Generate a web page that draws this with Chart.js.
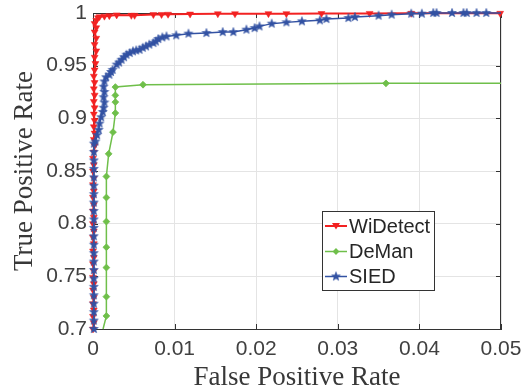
<!DOCTYPE html>
<html>
<head>
<meta charset="utf-8">
<script src="https://cdn.jsdelivr.net/npm/chart.js@4"></script>
<style>
  html, body { margin: 0; padding: 0; background: #fff; }
  #wrap { width: 522px; height: 391px; }
</style>
</head>
<body>
<div id="wrap"><canvas id="c" width="522" height="391"></canvas></div>
<script>
// ---------------- data ----------------
const seriesNames = ['WiDetect', 'DeMan', 'SIED'];
const xTickValues = [0, 0.01, 0.02, 0.03, 0.04, 0.05];
const xTickLabels = ['0', '0.01', '0.02', '0.03', '0.04', '0.05'];
const yTickValues = [0.7, 0.75, 0.8, 0.85, 0.9, 0.95, 1];
const yTickLabels = ['0.7', '0.75', '0.8', '0.85', '0.9', '0.95', '1'];
const xTitle = 'False Positive Rate';
const yTitle = 'True Positive Rate';

const widetectFPR = [0, 0.0001, 0, 0.0001, 0, 0.0001, 0, 0.0001, 0, 0.0001, 0, 0.0001, 0, 0.0001, 0, 0.0001,
  0, 0.0001, 0, 0.0001, 0, 0.0001, 0, 0.0001, 0, 0.0001, 0, 0.0001, 0.0002, 0.0001, 0.0002, 0.0001,
  0.0002, 0.0001, 0.0002, 0.0001, 0.0002, 0.0001, 0.0002, 0.0001, 0.0002, 0.0003, 0.0002, 0.0004, 0.0002, 0.0004,
  0.0002, 0.0004, 0.0002, 0.0004, 0.0006, 0.0008,
  0.0014, 0.0020, 0.0029, 0.0047, 0.0051, 0.0074, 0.0084, 0.0092, 0.0119, 0.0153, 0.0174,
  0.0215, 0.0237, 0.0280, 0.0339, 0.0390, 0.0499];
const widetectTPR = [0.700, 0.706, 0.712, 0.718, 0.724, 0.730, 0.737, 0.743, 0.749, 0.755, 0.762, 0.768, 0.774, 0.781, 0.787, 0.793,
  0.800, 0.806, 0.812, 0.818, 0.825, 0.831, 0.837, 0.843, 0.850, 0.856, 0.862, 0.868, 0.874, 0.880, 0.886, 0.892,
  0.898, 0.904, 0.910, 0.916, 0.922, 0.928, 0.934, 0.940, 0.946, 0.952, 0.958, 0.964, 0.970, 0.976,
  0.982, 0.986, 0.990, 0.993, 0.9955, 0.9965,
  0.9970, 0.9975, 0.9982, 0.9978, 0.9978, 0.9985, 0.9986, 0.9988, 0.9990, 0.9993, 0.9993,
  0.9994, 0.9994, 0.9995, 0.9996, 0.9997, 0.9997];

const demanFPR = [0.00123, 0.00164, 0.00164, 0.00164, 0.00164, 0.00164, 0.00164, 0.00164, 0.00192, 0.00245,
  0.00274, 0.00274, 0.00274, 0.00274, 0.00613, 0.0359, 0.05];
const demanTPR = [0.700, 0.7124, 0.7307, 0.7583, 0.7776, 0.8020, 0.8248, 0.8448, 0.8663, 0.8869,
  0.9050, 0.9154, 0.9218, 0.9297, 0.9319, 0.9332, 0.9332];

const siedFPR = [0.0001, 0.0001, 0.0001, 0.0001, 0.0001, 0.0001, 0.0001, 0.0001, 0.0001, 0.0001, 0.0001, 0.0001,
  0.0001, 0.0001, 0.0001, 0.0001, 0.0001, 0.0001, 0.0001, 0.0001, 0.0001, 0.0001, 0.0001,
  0.0003, 0.0005, 0.0007, 0.0008, 0.0010, 0.0012, 0.0013, 0.0014, 0.0013, 0.0014, 0.0013, 0.0014, 0.0016,
  0.0020, 0.0022, 0.0024, 0.0029, 0.0032, 0.0035, 0.0038, 0.0041, 0.0045, 0.0049, 0.0053, 0.0057, 0.0061,
  0.0065, 0.0069, 0.0074, 0.0077, 0.0080, 0.0085, 0.0090, 0.0102, 0.0117, 0.0139, 0.0159, 0.0172,
  0.0188, 0.0198, 0.0204, 0.0219, 0.0237, 0.0256, 0.0278, 0.0286, 0.0313, 0.0321, 0.0350, 0.0366,
  0.0390, 0.0403, 0.0417, 0.0421, 0.0440, 0.0454, 0.0458, 0.0470, 0.0482, 0.0500];
const siedTPR = [0.700, 0.708, 0.716, 0.724, 0.732, 0.740, 0.748, 0.756, 0.764, 0.772, 0.780, 0.788,
  0.796, 0.804, 0.812, 0.820, 0.828, 0.836, 0.844, 0.852, 0.860, 0.868, 0.876,
  0.878, 0.884, 0.889, 0.895, 0.901, 0.906, 0.910, 0.915, 0.920, 0.925, 0.930, 0.935, 0.939,
  0.9414, 0.944, 0.946, 0.951, 0.953, 0.9556, 0.958, 0.9604, 0.962, 0.9636, 0.9645, 0.9651, 0.967,
  0.9683, 0.970, 0.9715, 0.973, 0.9753, 0.9768, 0.9778, 0.9788, 0.9804, 0.9810, 0.9819, 0.9819,
  0.9842, 0.9857, 0.9873, 0.9899, 0.9911, 0.9921, 0.9930, 0.9943, 0.9952, 0.9962, 0.9975, 0.9984,
  0.9994, 0.9994, 1, 1, 1, 1, 1, 1, 1, 1];

// ---------------- styles ----------------
const RED = '#f22222';
const GREEN = '#6fbf4a';
const BLUE = '#3352a3';

function makeStar(color, r) {
  const s = Math.ceil(r * 2 + 2);
  const cv = document.createElement('canvas');
  cv.width = s; cv.height = s;
  const g = cv.getContext('2d');
  const cx = s / 2, cy = s / 2;
  g.beginPath();
  for (let i = 0; i < 10; i++) {
    const rad = (i % 2 === 0) ? r : r * 0.42;
    const a = -Math.PI / 2 + i * Math.PI / 5;
    const px = cx + rad * Math.cos(a), py = cy + rad * Math.sin(a);
    if (i === 0) g.moveTo(px, py); else g.lineTo(px, py);
  }
  g.closePath();
  g.fillStyle = color;
  g.fill();
  g.strokeStyle = color;
  g.lineWidth = 0.6;
  g.stroke();
  return cv;
}
const starImg = makeStar(BLUE, 4.6);

const zip = (xs, ys) => xs.map((x, i) => ({ x: x, y: ys[i] }));
const clipBox = { left: 8, top: 8, right: 8, bottom: 5 };

const datasets = [
  {
    label: seriesNames[0], data: zip(widetectFPR, widetectTPR),
    borderColor: RED, backgroundColor: RED, borderWidth: 2,
    pointStyle: 'triangle', rotation: 180, pointRadius: 4, pointBorderWidth: 0.5,
    showLine: true, order: 3, clip: clipBox
  },
  {
    label: seriesNames[1], data: zip(demanFPR, demanTPR),
    borderColor: GREEN, backgroundColor: GREEN, borderWidth: 1.5,
    pointStyle: 'rectRot', pointRadius: (c) => (c.dataIndex === 0 || c.dataIndex === demanFPR.length - 1) ? 0 : 3.4,
    pointBorderWidth: 0.8,
    showLine: true, order: 2, clip: clipBox
  },
  {
    label: seriesNames[2], data: zip(siedFPR, siedTPR),
    borderColor: BLUE, backgroundColor: BLUE, borderWidth: 1.5,
    pointStyle: (c) => (c.dataIndex === siedFPR.length - 1) ? false : starImg, pointRadius: 4.5,
    showLine: true, order: 1, clip: clipBox
  }
];

const AXIS = '#333333';
const TICKCOL = '#404040';

const framePlugin = {
  id: 'frame',
  beforeDatasetsDraw(chart) {
    const { ctx, chartArea: a, scales } = chart;
    ctx.save();
    ctx.strokeStyle = AXIS;
    ctx.lineWidth = 1;
    ctx.beginPath();
    ctx.moveTo(a.left, a.top + 0.5); ctx.lineTo(a.right, a.top + 0.5);
    ctx.moveTo(a.right - 0.5, a.top); ctx.lineTo(a.right - 0.5, a.bottom);
    // inward tick marks
    const L = 5;
    xTickValues.forEach(v => {
      const px = Math.round(scales.x.getPixelForValue(v)) + 0.5;
      ctx.moveTo(px, a.bottom); ctx.lineTo(px, a.bottom - L);
      ctx.moveTo(px, a.top); ctx.lineTo(px, a.top + L);
    });
    yTickValues.forEach(v => {
      const py = Math.round(scales.y.getPixelForValue(v)) + 0.5;
      ctx.moveTo(a.left, py); ctx.lineTo(a.left + L, py);
      ctx.moveTo(a.right, py); ctx.lineTo(a.right - L, py);
    });
    ctx.stroke();
    ctx.restore();
  },
  afterDatasetsDraw(chart) {
    const { ctx } = chart;
    const box = { x: 322.5, y: 211.5, w: 112, h: 79 };
    ctx.save();
    ctx.fillStyle = '#ffffff';
    ctx.fillRect(box.x, box.y, box.w, box.h);
    ctx.strokeStyle = '#333333';
    ctx.lineWidth = 1;
    ctx.strokeRect(box.x, box.y, box.w, box.h);
    const rows = [226, 251.5, 276.5];
    const cols = [RED, GREEN, BLUE];
    rows.forEach((ry, i) => {
      ctx.strokeStyle = cols[i];
      ctx.lineWidth = i === 0 ? 2 : 1.5;
      ctx.beginPath();
      ctx.moveTo(325, ry); ctx.lineTo(347, ry);
      ctx.stroke();
      ctx.fillStyle = cols[i];
      if (i === 0) {
        ctx.beginPath();
        ctx.moveTo(332, ry - 3); ctx.lineTo(340, ry - 3); ctx.lineTo(336, ry + 3.5);
        ctx.closePath(); ctx.fill();
      } else if (i === 1) {
        ctx.beginPath();
        ctx.moveTo(336, ry - 3.4); ctx.lineTo(339.4, ry); ctx.lineTo(336, ry + 3.4); ctx.lineTo(332.6, ry);
        ctx.closePath(); ctx.fill();
      } else {
        ctx.drawImage(starImg, 336 - starImg.width / 2, ry - starImg.height / 2);
      }
      ctx.fillStyle = '#262626';
      ctx.font = '20px "Liberation Sans", Arial, sans-serif';
      ctx.textBaseline = 'middle';
      ctx.textAlign = 'left';
      ctx.fillText(seriesNames[i], 349, ry + 1);
    });
    ctx.restore();
  }
};

new Chart(document.getElementById('c'), {
  type: 'scatter',
  data: { datasets: datasets },
  options: {
    responsive: false,
    animation: false,
    events: [],
    layout: { padding: { top: 13, right: 21, left: 0, bottom: 0 } },
    plugins: { legend: { display: false }, tooltip: { enabled: false } },
    scales: {
      x: {
        type: 'linear', min: 0, max: 0.05,
        afterBuildTicks: (s) => { s.ticks = xTickValues.map(v => ({ value: v })); },
        afterFit: (s) => { s.height = 62; s.paddingLeft = 0; s.paddingRight = 0; },
        ticks: {
          callback: (v, i) => xTickLabels[i],
          color: TICKCOL, padding: 8, maxRotation: 0, autoSkip: false,
          font: { family: '"Liberation Sans", Arial, sans-serif', size: 21 }
        },
        grid: { color: '#e4e4e4', lineWidth: 1, drawTicks: false },
        border: { color: AXIS, width: 1 },
        title: {
          display: true, text: xTitle, color: '#383838',
          font: { family: '"Liberation Serif", "Times New Roman", serif', size: 27, lineHeight: 1 },
          padding: { top: 0, bottom: 0 }
        }
      },
      y: {
        type: 'linear', min: 0.7, max: 1,
        afterBuildTicks: (s) => { s.ticks = yTickValues.map(v => ({ value: v })); },
        afterFit: (s) => { s.width = 93; s.paddingTop = 0; s.paddingBottom = 0; },
        ticks: {
          callback: (v, i) => yTickLabels[i],
          color: TICKCOL, padding: 6, autoSkip: false,
          font: { family: '"Liberation Sans", Arial, sans-serif', size: 21 }
        },
        grid: { color: '#e4e4e4', lineWidth: 1, drawTicks: false },
        border: { color: AXIS, width: 1 },
        title: {
          display: true, text: yTitle, color: '#383838',
          font: { family: '"Liberation Serif", "Times New Roman", serif', size: 27, lineHeight: 1 },
          padding: { top: 11, bottom: 0 }
        }
      }
    }
  },
  plugins: [framePlugin]
});
</script>
</body>
</html>
